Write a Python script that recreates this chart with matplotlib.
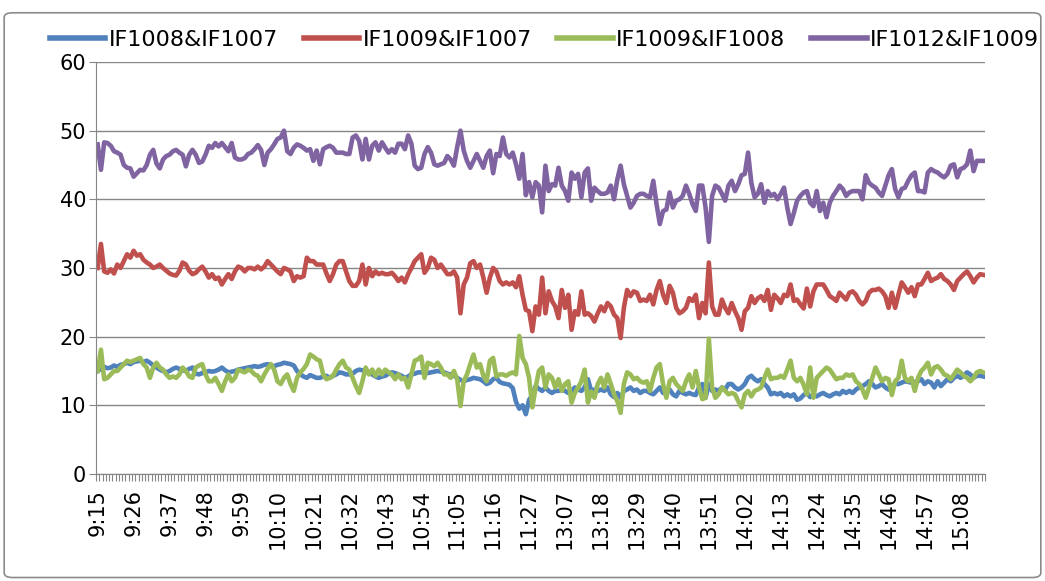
import matplotlib.pyplot as plt
import numpy as np
from matplotlib.patches import FancyBboxPatch

# spreads, one value per minute (9:15-11:30, 13:00-15:15)
if1008_if1007 = [
    15.0, 15.3, 15.6, 15.4, 15.5, 15.8, 15.6, 15.9, 16.0, 16.2,
    16.0, 16.3, 16.4, 16.5, 16.3, 16.5, 16.2, 15.8, 15.5, 15.2,
    15.0, 14.8, 15.0, 15.3, 15.5, 15.3, 15.1, 15.0, 15.3, 15.5,
    14.6, 14.5, 14.7, 14.8, 15.0, 14.9, 15.0, 15.2, 15.5, 15.1,
    14.8, 14.9, 15.0, 15.2, 15.3, 15.4, 15.5, 15.6, 15.7, 15.6,
    15.7, 15.9, 16.0, 15.8, 15.7, 15.9, 16.0, 16.2, 16.1, 16.0,
    15.8, 15.0, 14.5, 14.2, 14.0, 14.4, 14.2, 14.0, 14.0, 14.2,
    14.3, 14.0, 14.3, 14.5, 14.8, 14.7, 14.5, 14.5, 14.6, 15.0,
    15.2, 15.1, 15.0, 14.8, 14.5, 14.2, 14.0, 14.2, 14.3, 14.6,
    14.8, 14.7, 14.5, 14.3, 14.0, 14.2, 14.5, 14.6, 14.8, 14.8,
    14.8, 14.7, 14.8, 14.9, 15.0, 14.9, 14.8, 14.6, 14.5, 14.3,
    14.0, 13.7, 13.5, 13.7, 13.8, 14.0, 13.9, 13.8, 13.5, 13.1,
    13.3, 13.8, 14.0, 13.4, 13.2, 13.1, 13.0, 12.5, 10.5, 9.5,
    10.0, 8.7, 10.8, 11.5, 12.8, 12.4, 12.1, 12.6, 12.1, 11.8,
    12.1, 12.1, 12.3, 12.1, 11.8, 12.0, 12.6, 12.3, 12.1, 12.6,
    13.8, 12.1, 12.3, 12.1, 12.3, 12.1, 12.6, 11.6, 11.2, 11.8,
    11.1, 12.1, 12.3, 12.6, 12.1, 12.3, 11.8, 12.1, 12.1, 11.8,
    11.6, 12.1, 12.6, 11.8, 12.1, 12.3, 11.6, 11.3, 12.1, 11.8,
    11.6, 11.8, 11.6, 11.5, 12.6, 13.1, 11.1, 13.1, 12.1, 12.3,
    12.1, 12.6, 12.3, 13.1, 13.1, 12.6, 12.3, 12.6, 13.1, 14.0,
    14.3, 13.8, 13.5, 13.8, 13.1, 12.6, 11.6, 11.8, 11.6, 11.8,
    11.3, 11.6, 11.3, 11.6, 10.8, 11.0, 11.5, 11.8, 11.2, 11.5,
    11.3, 11.6, 11.8, 11.5, 11.3, 11.6, 11.8, 11.6, 12.1, 11.8,
    12.1, 11.8, 12.3, 12.6, 12.8, 13.1, 13.5, 13.1, 12.6, 12.8,
    13.1, 12.6, 12.3, 12.8, 13.1, 13.1, 13.3, 13.5, 13.4, 13.3,
    13.4, 13.5, 13.8, 13.1, 13.5, 13.3, 12.6, 13.5, 12.8, 13.3,
    13.8, 13.5, 14.0, 14.3, 14.0, 14.3, 14.8, 14.5, 14.0, 14.3,
    14.3, 14.2,
]

if1009_if1007 = [
    30.0, 33.5, 29.5, 29.3, 29.8, 29.2, 30.5, 30.0, 31.0, 32.0,
    31.5, 32.5, 31.8, 32.0, 31.2, 30.8, 30.5, 30.0, 30.2, 30.5,
    30.0, 29.6, 29.2, 29.0, 28.9, 29.6, 30.8, 30.5, 29.6, 29.1,
    29.3, 29.8, 30.2, 29.5, 28.6, 29.1, 28.4, 28.6, 27.6, 28.4,
    29.1, 28.4, 29.5, 30.2, 30.0, 29.5, 30.0, 30.0, 29.8, 30.2,
    29.8, 30.2, 31.0, 30.5, 30.0, 29.5, 29.1, 30.0, 29.8, 29.5,
    28.1, 28.8, 28.6, 28.8, 31.5, 31.0, 31.0, 30.5, 30.5, 30.5,
    29.2, 28.1, 29.1, 30.5, 31.0, 31.0, 29.5, 28.1, 27.4, 27.4,
    28.1, 30.5, 27.6, 30.0, 28.8, 29.5, 29.1, 29.3, 29.1, 29.1,
    29.3, 28.8, 28.1, 28.6, 27.9, 29.1, 30.0, 31.0, 31.5, 32.0,
    29.3, 30.0, 31.5, 31.2, 30.0, 30.5, 29.8, 29.1, 29.1, 29.5,
    28.6, 23.4, 27.6, 28.6, 30.7, 31.0, 30.0, 30.5, 28.6, 26.4,
    28.6, 30.0, 29.5, 28.1, 27.6, 27.9, 27.6, 27.9, 27.2, 28.8,
    26.1, 23.9, 23.7, 20.8, 24.4, 23.2, 28.6, 23.4, 26.6, 25.2,
    24.4, 22.7, 26.8, 24.2, 26.1, 21.0, 23.7, 23.2, 26.6, 23.2,
    23.4, 23.0, 22.2, 23.4, 24.4, 23.7, 24.9, 24.4, 23.2, 22.7,
    19.8, 24.2, 26.8, 25.9, 26.6, 26.4, 25.2, 25.4, 25.2, 26.1,
    24.7, 26.8, 28.1, 26.1, 24.9, 27.4, 26.4, 24.2, 23.4, 23.7,
    24.2, 25.6, 25.2, 26.1, 22.7, 24.9, 23.4, 30.8, 24.4, 23.2,
    23.2, 25.4, 24.2, 23.4, 24.9, 23.7, 22.7, 21.0, 23.7, 24.2,
    25.9, 24.9, 25.6, 25.9, 25.2, 26.8, 23.9, 26.1, 25.6, 24.9,
    26.1, 25.9, 27.6, 25.2, 25.4, 24.7, 24.1, 27.0, 24.4, 26.6,
    27.6, 27.6, 27.6, 26.8, 25.9, 25.6, 25.2, 26.4, 25.9, 25.4,
    26.4, 26.6, 26.1, 25.2, 24.7, 25.2, 26.4, 26.8, 26.8, 27.0,
    26.6, 25.9, 24.2, 26.4, 24.2, 26.1, 27.9, 27.2, 26.4, 27.2,
    25.9, 27.6, 27.6, 28.4, 29.3, 28.1, 28.4, 28.6, 29.1, 28.4,
    28.1, 27.6, 26.8, 28.1, 28.6, 29.1, 29.5, 28.8, 27.9, 28.6,
    29.1, 29.0,
]

if1009_if1008 = [
    15.0, 18.1, 13.8, 14.0, 14.5, 15.0, 15.0, 15.5, 16.0, 16.5,
    16.3, 16.5, 16.7, 16.9, 16.0, 15.5, 14.0, 15.5, 16.2, 15.5,
    15.2, 14.5, 14.0, 14.2, 14.0, 14.5, 15.5, 15.0, 14.2, 14.0,
    15.5, 15.8, 16.0, 14.5, 13.5, 13.5, 14.0, 13.1, 12.1, 13.5,
    14.5, 13.5, 14.0, 15.2, 15.0, 14.8, 15.2, 15.0, 14.5, 14.3,
    13.5, 14.5, 15.3, 16.0, 15.2, 13.5, 13.1, 14.0, 14.5, 13.1,
    12.1, 14.0, 14.8, 15.3, 16.0, 17.4, 17.1, 16.7, 16.5, 14.5,
    13.8, 14.0, 14.3, 15.2, 16.0, 16.5, 15.5, 15.2, 14.0, 12.8,
    11.8, 13.5, 15.5, 14.5, 15.2, 14.3, 15.2, 14.5, 15.2, 14.8,
    14.5, 13.8, 14.5, 13.8, 14.0, 12.6, 14.5, 16.5, 16.7, 17.1,
    14.0, 16.2, 16.0, 15.7, 16.2, 15.5, 14.5, 14.5, 14.0, 15.0,
    13.8, 9.9, 13.5, 14.5, 16.0, 17.4, 15.5, 16.0, 14.3, 13.5,
    16.5, 16.9, 14.2, 14.5, 14.5, 14.3, 14.6, 14.8, 14.5, 20.1,
    16.9, 16.0, 14.0, 9.7, 12.6, 15.0, 15.5, 12.6, 14.5, 14.0,
    12.6, 13.8, 12.1, 13.1, 13.5, 10.4, 11.8, 12.6, 13.5, 15.2,
    10.4, 12.0, 11.1, 13.1, 14.0, 12.6, 14.5, 13.1, 11.6, 10.6,
    8.9, 13.1, 14.8, 14.5, 13.8, 14.0, 13.5, 13.3, 13.5, 12.1,
    14.0, 15.5, 16.0, 13.1, 11.1, 13.5, 14.0, 13.1, 12.6, 12.1,
    13.5, 14.5, 12.6, 15.0, 12.6, 10.9, 11.1, 19.7, 12.6, 11.1,
    11.6, 12.6, 12.1, 11.6, 11.8, 11.6, 10.6, 9.7, 11.6, 12.1,
    11.3, 12.1, 12.3, 12.6, 14.0, 15.2, 13.8, 14.0, 14.0, 14.3,
    14.0, 15.2, 16.5, 14.0, 13.5, 14.0, 13.0, 11.6, 15.5, 11.1,
    14.0, 14.5, 15.0, 15.5, 15.2, 14.5, 13.8, 14.0, 14.0, 14.5,
    14.3, 14.5, 13.5, 13.1, 12.3, 11.1, 12.6, 14.0, 15.5, 14.5,
    13.5, 14.0, 13.8, 11.5, 13.5, 14.0, 16.5, 14.0, 13.5, 14.0,
    12.1, 14.0, 15.0, 15.5, 16.2, 14.5, 15.5, 15.7, 15.2, 14.5,
    14.3, 13.8, 14.5, 15.2, 14.8, 14.3, 14.0, 13.5, 14.0, 14.8,
    15.0, 14.8,
]

if1012_if1009 = [
    48.0, 44.3, 48.3, 48.2, 47.8, 47.0, 46.8, 46.5, 45.0, 44.6,
    44.5, 43.3, 43.8, 44.3, 44.2, 45.0, 46.5, 47.2, 45.2, 44.5,
    45.8, 46.3, 46.5, 47.0, 47.2, 46.8, 46.5, 44.8, 46.5, 47.2,
    46.5, 45.3, 45.5, 46.5, 47.8, 47.5, 48.2, 47.7, 48.2, 47.6,
    47.0, 48.2, 46.1, 45.8, 45.8, 46.0, 46.6, 46.8, 47.3, 47.9,
    47.2, 45.0, 46.8, 47.3, 48.0, 48.8, 49.0, 50.0, 47.0, 46.6,
    47.5, 48.0, 47.8, 47.5, 47.1, 47.3, 45.6, 47.1, 45.1, 47.3,
    47.6, 47.8, 47.5, 46.8, 46.8, 46.8, 46.6, 46.6, 49.0, 49.3,
    48.5, 45.8, 48.8, 45.8, 47.8, 48.3, 47.1, 48.3, 47.5, 46.8,
    47.3, 46.8, 48.1, 48.1, 47.3, 49.3, 48.1, 44.9, 44.4, 44.6,
    46.6, 47.6, 46.8, 45.1, 44.9, 45.1, 45.3, 46.3, 45.8, 44.9,
    47.6, 50.0, 47.1, 45.6, 44.6, 45.6, 46.6, 45.6, 44.6, 46.3,
    47.1, 43.8, 46.6, 46.3, 49.0, 46.6, 46.1, 46.8, 45.1, 43.0,
    46.6, 40.6, 42.5, 40.3, 42.5, 42.0, 38.1, 44.9, 41.2, 42.2,
    42.0, 44.6, 42.0, 41.2, 39.8, 43.9, 43.0, 43.7, 40.3, 43.9,
    44.5, 39.8, 41.7, 41.2, 40.8, 40.8, 41.0, 42.0, 40.0, 42.9,
    44.9, 42.2, 40.5, 38.8, 39.5, 40.5, 40.8, 40.8, 40.5, 40.3,
    42.7, 39.3, 36.4, 38.3, 38.5, 41.0, 38.8, 39.8, 40.0, 40.5,
    42.0, 40.8, 39.3, 38.3, 42.0, 42.0, 38.8, 33.8, 40.5, 42.0,
    41.7, 40.8, 39.8, 42.0, 42.7, 41.2, 42.2, 43.5, 43.7, 46.8,
    42.4, 40.3, 40.8, 42.2, 39.5, 41.2, 40.5, 40.8, 40.0, 40.8,
    41.7, 38.8, 36.4, 38.0, 39.8, 40.5, 41.0, 41.2, 39.5, 39.0,
    41.2, 38.3, 39.5, 37.4, 39.5, 40.5, 41.2, 42.0, 41.5, 40.5,
    41.0, 41.2, 41.2, 41.2, 40.0, 43.5, 42.4, 42.0, 41.7, 41.0,
    40.5, 42.0, 43.5, 44.4, 41.5, 40.3, 41.5, 41.7, 42.7, 43.5,
    43.9, 41.2, 41.2, 41.0, 43.9, 44.4, 44.1, 43.9, 43.5, 43.2,
    43.7, 44.9, 45.1, 43.2, 44.4, 44.6, 45.1, 47.1, 44.1, 45.6,
    45.6, 45.6,
]

# every 11th minute gets a label
tick_labels = ['9:15', '9:26', '9:37', '9:48', '9:59', '10:10', '10:21', '10:32',
               '10:43', '10:54', '11:05', '11:16', '11:27', '13:07', '13:18',
               '13:29', '13:40', '13:51', '14:02', '14:13', '14:24', '14:35',
               '14:46', '14:57', '15:08']

series = [
    ('IF1008&IF1007', if1008_if1007, '#4F81BD'),
    ('IF1009&IF1007', if1009_if1007, '#C0504D'),
    ('IF1009&IF1008', if1009_if1008, '#9BBB59'),
    ('IF1012&IF1009', if1012_if1009, '#8064A2'),
]

n = len(if1008_if1007)
x = np.arange(n)
gray = '#868686'

fig = plt.figure(figsize=(10.45, 5.81), dpi=100)
fig.patches.append(FancyBboxPatch((0.004, 0.006), 0.992, 0.972,
                                  boxstyle='round,pad=0,rounding_size=0.008',
                                  transform=fig.transFigure, facecolor='none',
                                  edgecolor='#8c8c8c', linewidth=1.2))

ax = fig.add_axes([0.0919, 0.1842, 0.8507, 0.7091])
for name, vals, col in series:
    ax.plot(x, vals, color=col, lw=3.3, label=name, solid_joinstyle='round')

ax.set_xlim(-0.5, n - 0.5)
ax.set_ylim(0, 60)
ax.set_yticks(range(0, 61, 10))
ax.grid(axis='y', color=gray, lw=1)
ax.set_axisbelow(True)
for s in ['top', 'right']:
    ax.spines[s].set_visible(False)
for s in ['left', 'bottom']:
    ax.spines[s].set_color(gray)
ax.tick_params(axis='y', length=5, color=gray, labelsize=15, pad=2)

ax.set_xticks(np.arange(0, n, 11)[:len(tick_labels)])
ax.set_xticklabels(tick_labels, rotation=90)
ax.set_xticks(np.arange(-0.5, n, 1), minor=True)
ax.tick_params(axis='x', which='major', length=0, labelsize=15, pad=11)
ax.tick_params(axis='x', which='minor', length=5, color=gray, width=0.8)

leg = fig.legend(loc='center', bbox_to_anchor=(0.521, 0.931), ncol=4, frameon=False,
                 fontsize=16, handlelength=2.5, handletextpad=0.15, columnspacing=1.15,
                 borderpad=0, borderaxespad=0)
for h in leg.get_lines():
    h.set_linewidth(4)

plt.savefig('out.png', dpi=100)
